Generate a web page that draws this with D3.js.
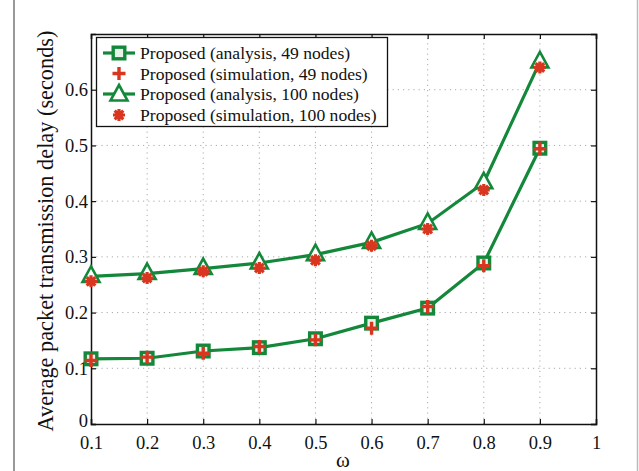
<!DOCTYPE html>
<html>
<head>
  <meta charset="UTF-8">
  <style>
    body { margin: 0; background: #fff; }
    svg text { font-family: "Liberation Serif", "Times New Roman", serif; fill: #111; }
  </style>
</head>
<body>
<svg></svg>
<script src="https://d3js.org/d3.v7.min.js"></script>
<script>

let width = 639, height = 471;

// data
let omega = [0.1, 0.2, 0.3, 0.4, 0.5, 0.6, 0.7, 0.8, 0.9];
let ana49 = [0.117, 0.118, 0.131, 0.137, 0.153, 0.181, 0.208, 0.289, 0.495];
let sim49 = [0.114, 0.120, 0.127, 0.139, 0.151, 0.172, 0.211, 0.284, 0.494];
let ana100 = [0.265, 0.270, 0.279, 0.289, 0.304, 0.326, 0.360, 0.433, 0.650];
let sim100 = [0.256, 0.262, 0.274, 0.280, 0.294, 0.320, 0.350, 0.420, 0.640];
let xTicks = [0.1, 0.2, 0.3, 0.4, 0.5, 0.6, 0.7, 0.8, 0.9, 1];
let yTicks = [0, 0.1, 0.2, 0.3, 0.4, 0.5, 0.6];
let legendLabels = ["Proposed (analysis, 49 nodes)", "Proposed (simulation, 49 nodes)",
                    "Proposed (analysis, 100 nodes)", "Proposed (simulation, 100 nodes)"];

let green = "#14883a", red = "#d8361f";

let svg = d3.select("svg").attr("width", width).attr("height", height);

let x = d3.scaleLinear().domain([0.1, 1]).range([91, 596]);
let y = d3.scaleLinear().domain([0, 0.7]).range([424, 34]);

// outer frame lines of the cropped figure
svg.append("line").attr("x1", 14).attr("x2", 14).attr("y1", 0).attr("y2", height)
  .attr("stroke", "#555").attr("stroke-width", 1.2);
svg.append("line").attr("x1", 637.5).attr("x2", 637.5).attr("y1", 0).attr("y2", height)
  .attr("stroke", "#bbb").attr("stroke-width", 1.5);

// grid
let grid = svg.append("g");
grid.selectAll(".gx").data(xTicks.slice(1, -1)).enter().append("line")
  .attr("x1", d => x(d)).attr("x2", d => x(d)).attr("y1", y(0)).attr("y2", y(0.7))
  .attr("stroke", "#aaa").attr("stroke-dasharray", "1.2,4");
grid.selectAll(".gy").data(yTicks.slice(1)).enter().append("line")
  .attr("x1", x(0.1)).attr("x2", x(1)).attr("y1", d => y(d)).attr("y2", d => y(d))
  .attr("stroke", "#aaa").attr("stroke-dasharray", "1.2,4");

// axes (ticks inside, box)
let axB = svg.append("g").attr("transform", "translate(0," + y(0) + ")")
  .call(d3.axisBottom(x).tickValues(xTicks).tickSize(-5).tickPadding(9).tickFormat(d => d == 1 ? "1" : d3.format(".1f")(d)));
let axT = svg.append("g").attr("transform", "translate(0," + y(0.7) + ")")
  .call(d3.axisTop(x).tickValues(xTicks).tickSize(-5).tickFormat(""));
let axL = svg.append("g").attr("transform", "translate(" + x(0.1) + ",0)")
  .call(d3.axisLeft(y).tickValues(yTicks).tickSize(-5).tickPadding(3).tickFormat(d => d == 0 ? "0" : d3.format(".1f")(d)));
let axR = svg.append("g").attr("transform", "translate(" + x(1) + ",0)")
  .call(d3.axisRight(y).tickValues(yTicks).tickSize(-5).tickFormat(""));
[axB, axT, axL, axR].forEach(a => {
  a.select(".domain").attr("stroke", "#111").attr("stroke-width", 1.5);
  a.selectAll(".tick line").attr("stroke", "#111").attr("stroke-width", 1.2);
  a.selectAll("text").attr("font-size", 18.5).attr("fill", "#111");
});
axB.selectAll(".tick text").attr("dy", "0.85em");
axL.selectAll(".tick text").filter(d => d == 0).attr("dy", "0.15em");

// axis titles
svg.append("text").attr("x", 343).attr("y", 467).attr("text-anchor", "middle")
  .attr("font-size", 21).text("ω");
svg.append("text").attr("transform", "translate(53,231) rotate(-90)")
  .attr("text-anchor", "middle").attr("font-size", 22.3)
  .text("Average packet transmission delay (seconds)");

// marker drawers
function square(g, cx, cy) {
  g.append("rect").attr("x", cx - 5.8).attr("y", cy - 5.8).attr("width", 11.6).attr("height", 11.6)
    .attr("fill", "#e8f4ea").attr("stroke", green).attr("stroke-width", 3.4);
}
function triangle(g, cx, cy) {
  g.append("path").attr("d", "M" + cx + "," + (cy - 10) + "L" + (cx + 8.5) + "," + (cy + 5.5) + "L" + (cx - 8.5) + "," + (cy + 5.5) + "Z")
    .attr("fill", "#fff").attr("stroke", green).attr("stroke-width", 2.6).attr("stroke-linejoin", "miter");
}
function plus(g, cx, cy) {
  g.append("path").attr("d", "M" + (cx - 6.5) + "," + cy + "H" + (cx + 6.5) + "M" + cx + "," + (cy - 6.5) + "V" + (cy + 6.5))
    .attr("stroke", red).attr("stroke-width", 3.4);
}
function star(g, cx, cy) {
  let r = 6, d = r * 0.72;
  g.append("path").attr("d",
    "M" + (cx - r) + "," + cy + "H" + (cx + r) + "M" + cx + "," + (cy - r) + "V" + (cy + r) +
    "M" + (cx - d) + "," + (cy - d) + "L" + (cx + d) + "," + (cy + d) +
    "M" + (cx - d) + "," + (cy + d) + "L" + (cx + d) + "," + (cy - d))
    .attr("stroke", red).attr("stroke-width", 3.2);
}

let line = d3.line().x((d, i) => x(omega[i])).y(d => y(d));
let plot = svg.append("g");

[ana49, ana100].forEach(vals => {
  plot.append("path").datum(vals).attr("d", line).attr("fill", "none")
    .attr("stroke", green).attr("stroke-width", 3.2);
});
ana49.forEach((v, i) => square(plot, x(omega[i]), y(v)));
ana100.forEach((v, i) => triangle(plot, x(omega[i]), y(v)));
sim49.forEach((v, i) => plus(plot, x(omega[i]), y(v)));
sim100.forEach((v, i) => star(plot, x(omega[i]), y(v)));

// legend
let lg = svg.append("g");
lg.append("rect").attr("x", 96.5).attr("y", 37.5).attr("width", 291).attr("height", 89)
  .attr("fill", "#fff").attr("stroke", "#111").attr("stroke-width", 1.3);
let rowY = [53, 73.5, 94, 115];
let drawers = [square, plus, triangle, star];
legendLabels.forEach((lab, i) => {
  if (i == 0 || i == 2) {
    lg.append("line").attr("x1", 103).attr("x2", 135).attr("y1", rowY[i]).attr("y2", rowY[i])
      .attr("stroke", green).attr("stroke-width", 3.2);
  }
  drawers[i](lg, 119, rowY[i] + (i == 2 ? 1 : 0));
  lg.append("text").attr("x", 140).attr("y", rowY[i]).attr("dy", "0.35em")
    .attr("font-size", 17.6).text(lab);
});

</script>
</body>
</html>
